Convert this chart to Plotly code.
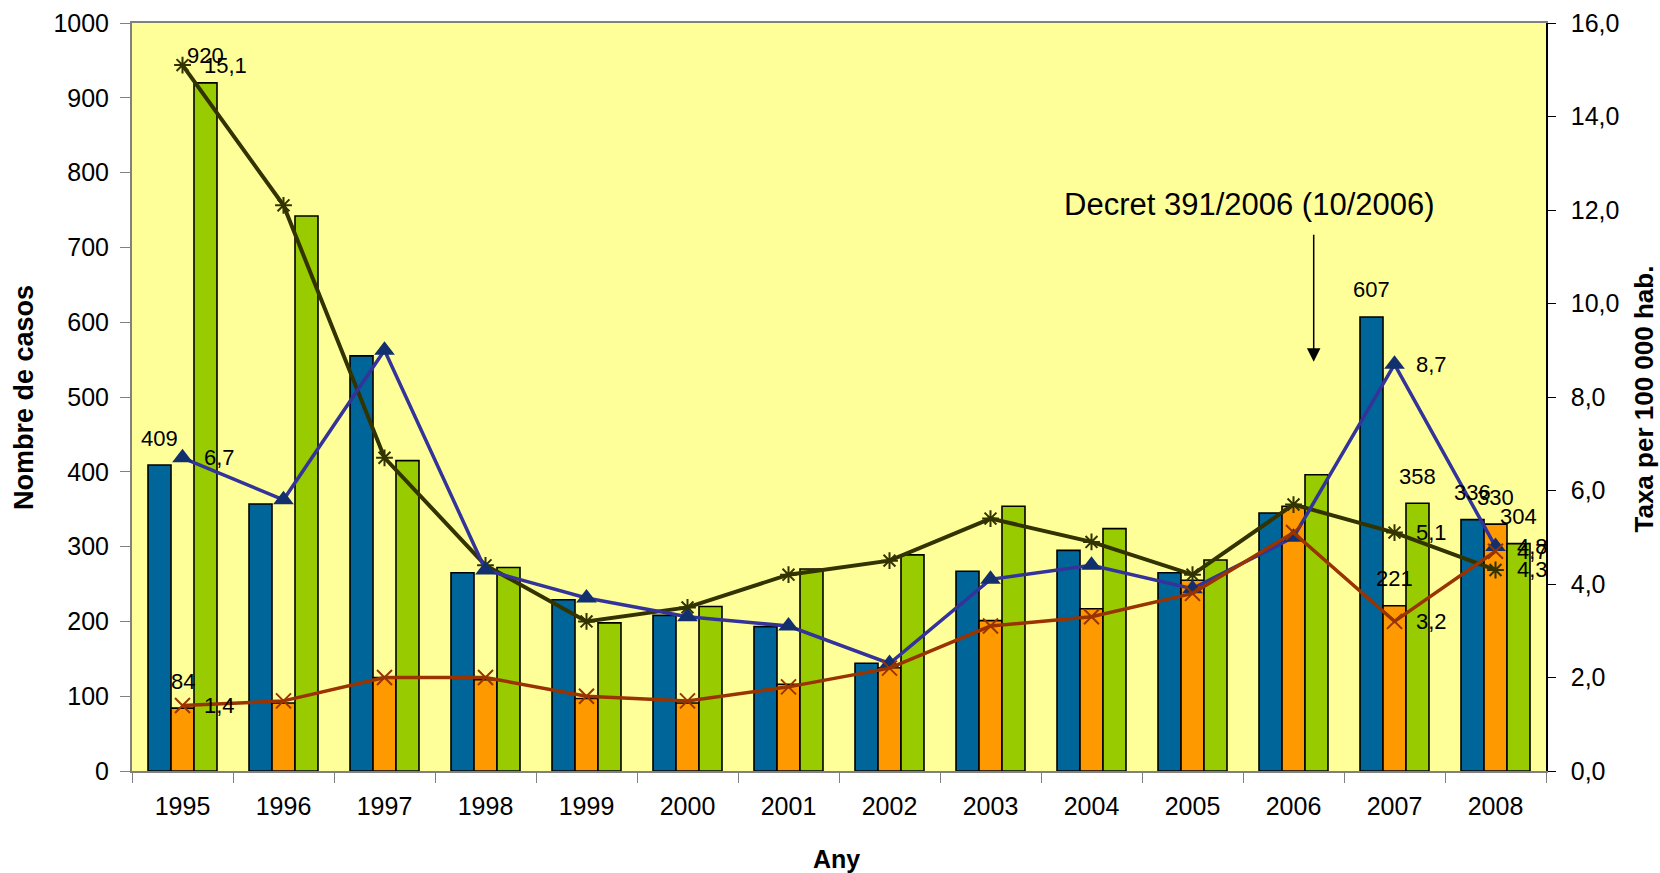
import plotly.graph_objects as go

# ---- data ----
years = ["1995", "1996", "1997", "1998", "1999", "2000", "2001",
         "2002", "2003", "2004", "2005", "2006", "2007", "2008"]
cases_blue = [409, 357, 555, 265, 229, 208, 193, 144, 267, 295, 265, 345, 607, 336]
cases_orange = [84, 91, 125, 122, 97, 91, 116, 138, 201, 217, 255, 354, 221, 330]
cases_green = [920, 742, 415, 272, 198, 220, 270, 289, 354, 324, 282, 396, 358, 304]
rate_blue = [6.7, 5.8, 9.0, 4.3, 3.7, 3.3, 3.1, 2.3, 4.1, 4.4, 3.9, 5.0, 8.7, 4.8]
rate_orange = [1.4, 1.5, 2.0, 2.0, 1.6, 1.5, 1.8, 2.2, 3.1, 3.3, 3.8, 5.1, 3.2, 4.7]
rate_green = [15.1, 12.1, 6.7, 4.4, 3.2, 3.5, 4.2, 4.5, 5.4, 4.9, 4.2, 5.7, 5.1, 4.3]
labelled = [0, 12, 13]
left_ticks = [0, 100, 200, 300, 400, 500, 600, 700, 800, 900, 1000]
left_ticktext = ["0", "100", "200", "300", "400", "500", "600", "700", "800", "900", "1000"]
right_ticks = [0, 2, 4, 6, 8, 10, 12, 14, 16]
right_ticktext = ["0,0", "2,0", "4,0", "6,0", "8,0", "10,0", "12,0", "14,0", "16,0"]
decret_text = "Decret 391/2006 (10/2006)"
decret_pos = 10.56      # category-axis position of the note
arrow_pos = 11.2        # October 2006 on the category axis
arrow_from, arrow_to = 719, 547

FONT = "Arial, Liberation Sans, sans-serif"
BLUE, ORANGE, GREEN = "#006699", "#FF9900", "#99CC00"

fig = go.Figure()
for vals, col in [(cases_blue, BLUE), (cases_orange, ORANGE), (cases_green, GREEN)]:
    fig.add_trace(go.Bar(x=years, y=vals, marker=dict(color=col, line=dict(color="black", width=1.6)),
                         yaxis="y", hoverinfo="skip"))

fig.add_trace(go.Scatter(x=years, y=rate_green, yaxis="y2", mode="lines+markers",
                         line=dict(color="#333300", width=4),
                         marker=dict(symbol="asterisk-open", size=14, line=dict(color="#333300", width=2))))
fig.add_trace(go.Scatter(x=years, y=rate_blue, yaxis="y2", mode="lines+markers",
                         line=dict(color="#333399", width=3.5),
                         marker=dict(symbol="triangle-up", size=18, color="#12306E")))
fig.add_trace(go.Scatter(x=years, y=rate_orange, yaxis="y2", mode="lines+markers",
                         line=dict(color="#993300", width=3.5),
                         marker=dict(symbol="x-thin-open", size=15, line=dict(color="#FF6600", width=2))))

ann = []
lblfont = dict(family=FONT, size=22, color="black")
bar_w = 101 * (1 - 0.317) / 3
for i in labelled:
    for k, vals in enumerate([cases_blue, cases_orange, cases_green]):
        ann.append(dict(x=i, y=vals[i], xref="x", yref="y", text=str(vals[i]),
                        showarrow=False, xanchor="center", yanchor="middle",
                        xshift=(k - 1) * bar_w, yshift=27, font=lblfont))
    for vals in [rate_green, rate_blue, rate_orange]:
        ann.append(dict(x=i, y=vals[i], xref="x", yref="y2",
                        text=f"{vals[i]:.1f}".replace(".", ","),
                        showarrow=False, xanchor="left", yanchor="middle",
                        xshift=19, font=lblfont))

ann.append(dict(x=decret_pos, y=757, xref="x", yref="y", text=decret_text, showarrow=False,
                xanchor="center", yanchor="middle", font=dict(family=FONT, size=31, color="black")))
ann.append(dict(x=arrow_pos, y=arrow_to, xref="x", yref="y", ax=arrow_pos, ay=arrow_from,
                axref="x", ayref="y", text="", showarrow=True, arrowhead=2, arrowsize=1.8,
                arrowwidth=1.5, arrowcolor="black"))

titlefont = dict(family=FONT, color="black")
ann.append(dict(x=-0.0764, y=0.5, xref="paper", yref="paper", text="<b>Nombre de casos</b>",
                textangle=-90, showarrow=False, xanchor="center", yanchor="middle",
                font=dict(size=27, **titlefont)))
ann.append(dict(x=1.0695, y=0.497, xref="paper", yref="paper", text="<b>Taxa per 100 000 hab.</b>",
                textangle=-90, showarrow=False, xanchor="center", yanchor="middle",
                font=dict(size=26, **titlefont)))
ann.append(dict(x=0.498, y=-0.117, xref="paper", yref="paper", text="<b>Any</b>",
                showarrow=False, xanchor="center", yanchor="middle",
                font=dict(size=25, **titlefont)))

tickfont = dict(family=FONT, size=25, color="black")
fig.update_layout(
    width=1660, height=873,
    margin=dict(l=132, r=114, t=23, b=102, pad=0),
    paper_bgcolor="white", plot_bgcolor="#FFFF99",
    barmode="group", bargap=0.317, bargroupgap=0,
    showlegend=False,
    annotations=ann,
    xaxis=dict(type="category", range=[-0.5, 13.5], autorange=False, automargin=False,
               showline=True, linecolor="#808080", linewidth=2, mirror=True,
               ticks="outside", tickson="boundaries", ticklen=10, tickcolor="#808080",
               tickangle=0, tickfont=tickfont, ticklabelstandoff=12, showgrid=False, zeroline=False),
    yaxis=dict(range=[0, 1000], tickvals=left_ticks, ticktext=left_ticktext, automargin=False,
               showline=True, linecolor="#808080", linewidth=2, ticks="outside",
               ticklen=10, tickcolor="#808080", tickfont=tickfont, ticklabelstandoff=6,
               showgrid=False, zeroline=False),
    yaxis2=dict(range=[0, 16], tickvals=right_ticks, ticktext=right_ticktext, automargin=False,
                overlaying="y", side="right", showline=True, linecolor="black", linewidth=1.5,
                ticks="outside", ticklen=8, tickcolor="black", tickfont=tickfont,
                ticklabelstandoff=10, showgrid=False, zeroline=False),
)
# remove the default page margin so the figure fills the window exactly
fig.write_html("out.html", config={"displayModeBar": False},
               post_script="document.body.style.margin='0';")
